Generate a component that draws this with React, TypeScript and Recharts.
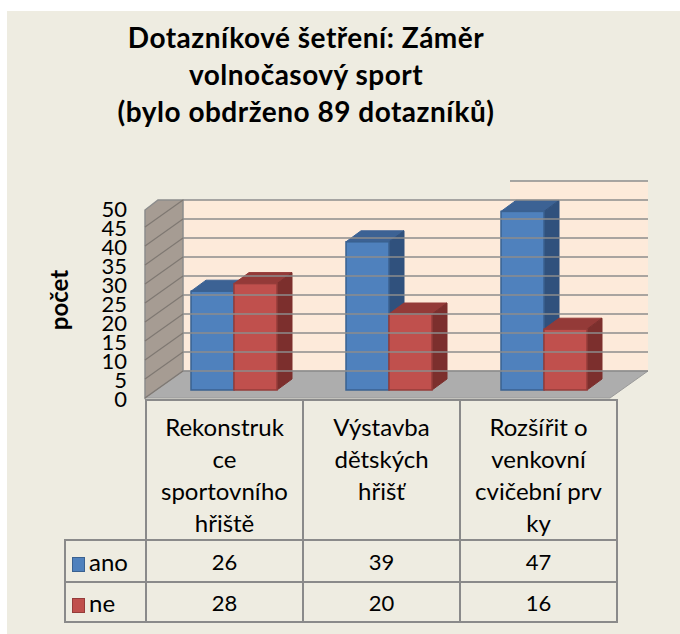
import React from 'react';
import { BarChart, Bar, XAxis, YAxis, ReferenceArea, ReferenceLine } from 'recharts';

const categories = ['Rekonstrukce sportovního hřiště', 'Výstavba dětských hřišť', 'Rozšířit o venkovní cvičební prvky'];
// how the table header wraps the category names
const categoryLines = [
  ['Rekonstruk', 'ce', 'sportovního', 'hřiště'],
  ['Výstavba', 'dětských', 'hřišť'],
  ['Rozšířit o', 'venkovní', 'cvičební prv', 'ky'],
];
const ano = [26, 39, 47];
const ne = [28, 20, 16];
const yTicks = [0, 5, 10, 15, 20, 25, 30, 35, 40, 45, 50];

const titleLines = ['Dotazníkové šetření: Záměr', 'volnočasový sport', '(bylo obdrženo 89 dotazníků)'];
const series = [
  { key: 'ano', name: 'ano', front: '#4F81BD', top: '#3C6294', side: '#30517D', edge: '#3A6190' },
  { key: 'ne', name: 'ne', front: '#C0504D', top: '#943A38', side: '#7C2F2D', edge: '#953C3A' },
];

const data = categories.map((c, i) => ({ name: c, ano: ano[i], ne: ne[i] }));

const FONT = 'Lato, "Open Sans", sans-serif';
const TOP = 200;
// offsets from the bar plane to the front edge and back wall of the 3D box
const FRONT = { dx: -11, dy: 8 };
const BACK = { dx: 27, dy: -19 };
const BAR_DEPTH = { dx: 15, dy: -11 };
const GRID = '#8C8C8C';

function Bar3D(props: any) {
  const { x, y, width: w, height: h, s } = props;
  if (h == null || w == null) return null;
  const { dx, dy } = BAR_DEPTH;
  return (
    <g>
      <polygon
        points={`${x},${y} ${x + dx},${y + dy} ${x + w + dx},${y + dy} ${x + w},${y}`}
        fill={s.top}
        stroke={s.top}
        strokeWidth={1}
      />
      <polygon
        points={`${x + w},${y} ${x + w + dx},${y + dy} ${x + w + dx},${y + h + dy} ${x + w},${y + h}`}
        fill={s.side}
        stroke={s.side}
        strokeWidth={1}
      />
      <rect x={x} y={y} width={w} height={h} fill={s.front} stroke={s.edge} strokeWidth={1.5} />
    </g>
  );
}

function Walls(props: any) {
  const { x, y, width, height } = props;
  const bottom = y + height;
  const fx = x + FRONT.dx;
  const bx = x + BACK.dx;
  const topBack = y + BACK.dy;
  return (
    <g>
      {/* back wall */}
      <rect x={bx} y={topBack} width={width} height={bottom - y} fill="#FDEADA" />
      {/* side wall */}
      <polygon
        points={`${fx},${bottom + FRONT.dy} ${fx},${topBack + 10} ${fx + 13},${topBack} ${bx},${topBack} ${bx},${bottom + BACK.dy}`}
        fill="#A69C93"
        stroke={GRID}
        strokeWidth={1.5}
      />
      {/* floor */}
      <polygon
        points={`${fx},${bottom + FRONT.dy} ${fx + width},${bottom + FRONT.dy} ${bx + width},${bottom + BACK.dy} ${bx},${bottom + BACK.dy}`}
        fill="#ADADAD"
        stroke="#9A9A9A"
        strokeWidth={1}
      />
    </g>
  );
}

function WallStrip(props: any) {
  const { x, y, width, height } = props;
  return <rect x={x + BACK.dx + 17} y={y + BACK.dy} width={width - 17} height={height} fill="#FDEADA" />;
}

function GridLine(props: any) {
  const { x1, x2, y1 } = props;
  if (Math.abs(y1 - TOP) < 0.5) {
    return (
      <line x1={x2 - 111} y1={y1 + BACK.dy} x2={x2 + BACK.dx} y2={y1 + BACK.dy} stroke={GRID} strokeWidth={1.5} />
    );
  }
  return (
    <g>
      <line x1={x1 + BACK.dx} y1={y1 + BACK.dy} x2={x2 + BACK.dx} y2={y1 + BACK.dy} stroke={GRID} strokeWidth={1.5} />
      <line x1={x1 + FRONT.dx} y1={y1 + FRONT.dy} x2={x1 + BACK.dx} y2={y1 + BACK.dy} stroke="#7F7872" strokeWidth={1.2} />
    </g>
  );
}

function YTick(props: any) {
  const { y, payload } = props;
  return (
    <text x={127} y={y + FRONT.dy} textAnchor="end" dominantBaseline="central" fontSize={22} fontFamily={FONT} fill="#000">
      {payload.value}
    </text>
  );
}

const border = '2px solid #8A8A8A';
const cell: React.CSSProperties = { border, padding: 0, textAlign: 'center', fontSize: 22 };

export default function App() {
  return (
    <div style={{ position: 'absolute', left: 0, top: 0, width: 680, height: 634, background: '#fff', fontFamily: FONT }}>
      <div style={{ position: 'absolute', left: 7, top: 11, right: 0, bottom: 0, background: '#EEECE1' }} />

      <div
        style={{
          position: 'absolute',
          left: 0,
          top: 19,
          width: 612,
          textAlign: 'center',
          fontWeight: 700,
          fontSize: 28,
          letterSpacing: 0.5,
          lineHeight: '37px',
          color: '#000',
        }}
      >
        {titleLines.map((t) => (
          <div key={t}>{t}</div>
        ))}
      </div>

      <div
        style={{
          position: 'absolute',
          left: 58,
          top: 300,
          transform: 'translate(-50%, -50%) rotate(-90deg)',
          fontWeight: 700,
          fontSize: 24,
          whiteSpace: 'nowrap',
        }}
      >
        počet
      </div>

      <div style={{ position: 'absolute', left: 0, top: 0 }}>
        <BarChart width={680} height={634} data={data} margin={{ top: TOP, right: 59, bottom: 244, left: 116 }} barGap={0} barSize={43}>
          <XAxis dataKey="name" hide />
          <YAxis width={40} domain={[0, 50]} ticks={yTicks} interval={0} axisLine={false} tickLine={false} tick={<YTick />} />
          <ReferenceArea y1={0} y2={45} ifOverflow="visible" shape={<Walls />} />
          <ReferenceArea x1={categories[2]} x2={categories[2]} y1={45} y2={50} ifOverflow="visible" shape={<WallStrip />} />
          {yTicks.map((t) => (
            <ReferenceLine key={t} y={t} ifOverflow="visible" shape={(p: any) => <GridLine {...p} />} />
          ))}
          {series.map((s) => (
            <Bar key={s.key} dataKey={s.key} name={s.name} isAnimationActive={false} shape={(p: any) => <Bar3D {...p} s={s} />} />
          ))}
        </BarChart>
      </div>

      <table
        style={{
          position: 'absolute',
          left: 64,
          top: 399,
          borderCollapse: 'collapse',
          tableLayout: 'fixed',
          color: '#000',
        }}
      >
        <tbody>
          <tr style={{ height: 138 }}>
            <td style={{ width: 80, border: 'none', padding: 0 }} />
            {categoryLines.map((lines, i) => (
              <td key={i} style={{ ...cell, width: 155, verticalAlign: 'top', paddingTop: 10, lineHeight: '32px', fontSize: 24 }}>
                {lines.map((l, j) => (
                  <div key={j}>{l}</div>
                ))}
              </td>
            ))}
          </tr>
          {series.map((s, r) => (
            <tr key={s.key} style={{ height: r === 0 ? 42 : 40 }}>
              <td style={{ ...cell, textAlign: 'left', paddingLeft: 6, fontSize: 24 }}>
                <span
                  style={{
                    display: 'inline-block',
                    width: 11,
                    height: 13,
                    background: s.front,
                    border: `1px solid ${s.edge}`,
                    verticalAlign: -1,
                    marginRight: 4,
                  }}
                />
                {s.name}
              </td>
              {(r === 0 ? ano : ne).map((v, i) => (
                <td key={i} style={cell}>
                  {v}
                </td>
              ))}
            </tr>
          ))}
        </tbody>
      </table>
    </div>
  );
}
